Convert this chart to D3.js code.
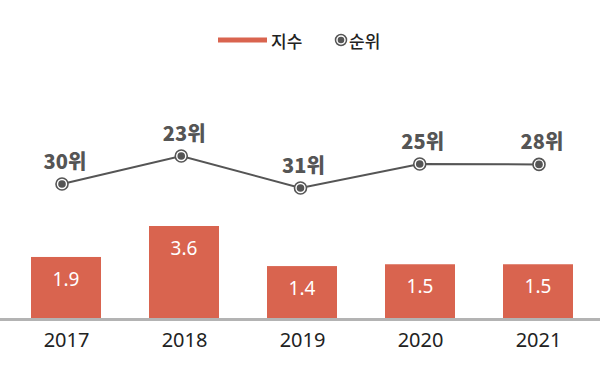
<!DOCTYPE html>
<html><head><meta charset="utf-8">
<script src="https://cdn.jsdelivr.net/npm/d3@7"></script>
<style>body{margin:0;background:#fff}svg{display:block}</style>
</head><body>
<svg id="c" width="600" height="380"></svg>
<script>
const years = ["2017","2018","2019","2020","2021"];
const indexValues = [1.9, 3.6, 1.4, 1.5, 1.5];
const rankLabels = [30, 23, 31, 25, 28];
const rankPlotted = [30, 23, 31, 25, 25.1];

const svg = d3.select("#c");
const barColor = "#d9644f";
const lineColor = "#555555";

const xBar = d3.scalePoint().domain(years).range([66, 538]);
const xLine = d3.scalePoint().domain(years).range([62, 539]);
const y = d3.scaleLinear().domain([-1.45, 3.6]).range([318, 226]);
const yRank = d3.scaleLinear().domain([23, 31]).range([156, 188]);
const barW = 70;

// bars
svg.selectAll("rect.bar").data(indexValues).join("rect")
  .attr("class","bar")
  .attr("x",(d,i)=>xBar(years[i])-barW/2)
  .attr("y",d=>y(d))
  .attr("width",barW)
  .attr("height",d=>y(-1.45)-y(d))
  .attr("fill",barColor);

svg.selectAll("text.bv").data(indexValues).join("text")
  .attr("class","bv")
  .attr("x",(d,i)=>xBar(years[i]))
  .attr("y",d=>y(d)+22)
  .attr("text-anchor","middle")
  .attr("dominant-baseline","central")
  .attr("fill","#fff")
  .style("font-family","'Noto Sans', sans-serif")
  .style("font-size","19px")
  .text(d=>d.toFixed(1));

// axis
const xAxis = d3.axisBottom(xBar).tickSize(0).tickPadding(14);
const gx = svg.append("g").attr("transform","translate(0,319)").call(xAxis);
gx.select(".domain").remove();
gx.append("line").attr("x1",0).attr("x2",600).attr("y1",0.5).attr("y2",0.5)
  .attr("stroke","#b3b3b3").attr("stroke-width",3);
gx.selectAll(".tick text").attr("fill","#222")
  .style("font-family","'Noto Sans', sans-serif").style("font-size","20px");

// line
const line = d3.line().x((d,i)=>xLine(years[i])).y(d=>yRank(d));
svg.append("path").datum(rankPlotted).attr("d",line)
  .attr("fill","none").attr("stroke",lineColor).attr("stroke-width",2);

const pts = svg.selectAll("g.pt").data(rankPlotted).join("g")
  .attr("class","pt")
  .attr("transform",(d,i)=>`translate(${xLine(years[i])},${yRank(d)})`);
pts.append("circle").attr("r",6).attr("fill","#fff").attr("stroke",lineColor).attr("stroke-width",1.6);
pts.append("circle").attr("r",3.8).attr("fill",lineColor);

svg.selectAll("text.rk").data(rankLabels).join("text")
  .attr("class","rk")
  .attr("x",(d,i)=>xLine(years[i])+3)
  .attr("y",(d,i)=>yRank(rankPlotted[i])-24)
  .attr("text-anchor","middle")
  .attr("dominant-baseline","central")
  .attr("fill","#555")
  .style("font-family","'Noto Sans CJK KR', sans-serif")
  .style("font-weight","900")
  .style("font-size","20px")
  .text(d=>d+"위");

// legend
const lg = svg.append("g");
lg.append("rect").attr("x",218).attr("y",37.5).attr("width",49).attr("height",5).attr("fill",barColor);
lg.append("text").attr("x",271).attr("y",40).attr("dominant-baseline","central")
  .attr("fill","#222").style("font-family","'Noto Sans CJK KR', sans-serif").style("font-weight","500").style("font-size","17px").text("지수");
lg.append("circle").attr("cx",341).attr("cy",40).attr("r",5.5).attr("fill","#fff").attr("stroke",lineColor).attr("stroke-width",1.5);
lg.append("circle").attr("cx",341).attr("cy",40).attr("r",3.3).attr("fill",lineColor);
lg.append("text").attr("x",349).attr("y",40).attr("dominant-baseline","central")
  .attr("fill","#222").style("font-family","'Noto Sans CJK KR', sans-serif").style("font-weight","500").style("font-size","17px").text("순위");
</script>
</body></html>
